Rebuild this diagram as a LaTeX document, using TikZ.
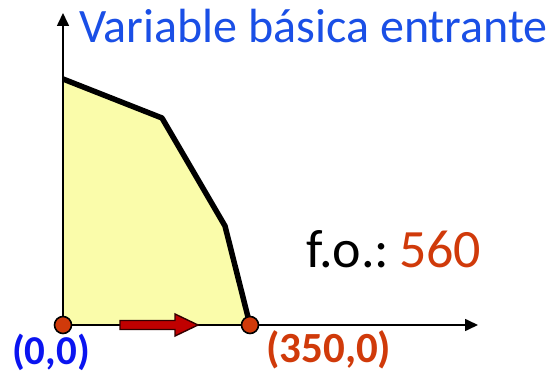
\documentclass[tikz,border=0pt]{standalone}
\usepackage{fontspec}
\setmainfont{Carlito}
\usetikzlibrary{arrows.meta}
\definecolor{titleblue}{HTML}{1A4FE6}
\definecolor{ptblue}{HTML}{0A14F0}
\definecolor{ptorange}{HTML}{D03A0A}
\definecolor{regionfill}{HTML}{FAFCAA}
\definecolor{arrowred}{HTML}{C00000}
\tikzset{
  axis/.style={line width=1.6pt,-{Triangle[length=13pt,width=12pt]}},
  boundary/.style={line width=5.5pt,line join=round},
  vertexdot/.style={circle,draw=black,line width=1.6pt,fill=ptorange,minimum size=17pt,inner sep=0pt},
  lbl/.style={inner sep=0pt,anchor=base west}
}
\begin{document}
\begin{tikzpicture}[x=1pt,y=-1pt]
\useasboundingbox (0,0) rectangle (554,379);
\coordinate (o) at (63,325);
\coordinate (v1) at (63,79);
\coordinate (v2) at (162,118);
\coordinate (v3) at (225,226);
\coordinate (v4) at (250,325);
\coordinate (ytop) at (63,13);
\coordinate (xend) at (478,325);
\fill[regionfill] (o) -- (v1) -- (v2) -- (v3) -- (v4) -- cycle;
\draw[axis] (o) -- (ytop);
\draw[axis] (o) -- (xend);
\draw[boundary] (v1) -- (v2) -- (v3) -- (v4);
\draw[line width=1.4pt,draw=black!80!red,fill=arrowred]
  (120,320.5) -- (175,320.5) -- (175,314) -- (198,325) -- (175,336) -- (175,329.5) -- (120,329.5) -- cycle;
\node[vertexdot] (p0) at (o) {};
\node[vertexdot] (p1) at (v4) {};
\node[lbl,text=titleblue,font=\fontsize{48}{48}\selectfont] (title) at (79,43) {Variable básica entrante};
\node[lbl,font=\fontsize{54}{54}\selectfont] (fo) at (306,268) {f.o.:\hspace{0.18em}\textcolor{ptorange}{560}};
\node[lbl,text=ptblue,font=\bfseries\fontsize{41}{41}\selectfont] (l0) at (12,364) {(0,0)};
\node[lbl,text=ptorange,font=\bfseries\fontsize{43}{43}\selectfont] (l1) at (266,362) {(350,0)};
\end{tikzpicture}
\end{document}
